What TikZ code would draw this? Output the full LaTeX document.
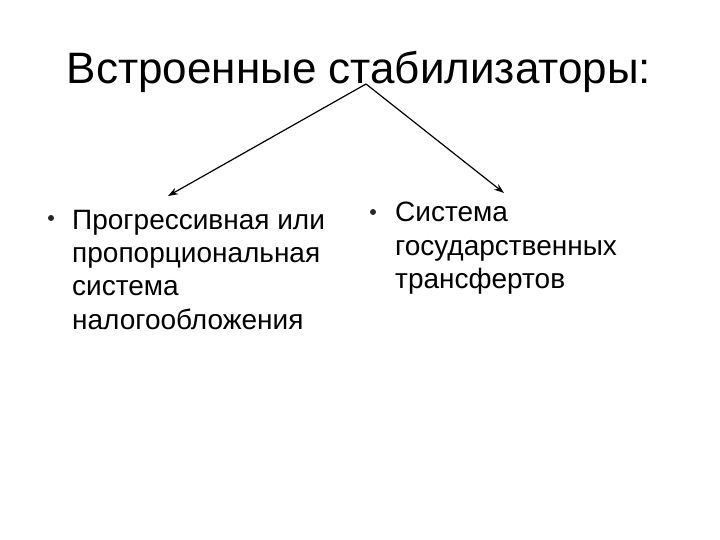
\documentclass[tikz,border=0pt]{standalone}
\usepackage{fontspec}
\setmainfont{Liberation Sans}
\usetikzlibrary{arrows.meta}
\begin{document}
\begin{tikzpicture}[x=1pt,y=-1pt,
  titletext/.style={inner sep=0pt,font=\fontsize{44}{52}\selectfont},
  bodytext/.style={inner sep=0pt,anchor=base west,align=left,font=\fontsize{28}{33.3}\selectfont},
  bulletmark/.style={circle,fill=black!85,inner sep=0pt,minimum size=6pt},
  conn/.style={line width=1.2pt,-{Stealth[length=10pt,width=7pt]}}]
\useasboundingbox[fill=white] (0,0) rectangle (720,540);
\node[titletext,anchor=base] (title) at (359,84) {Встроенные стабилизаторы:};
\coordinate (apex) at (366,84);
\coordinate (lefttip) at (168,196);
\coordinate (righttip) at (504,193);
\node[bulletmark] (lb) at (51,218) {};
\node[bodytext] (left) at (72,329) {Прогрессивная или\\пропорциональная\\система\\налогообложения};
\node[bulletmark] (rb) at (373,212) {};
\node[bodytext] (right) at (395,288.5) {Система\\государственных\\трансфертов};
\draw[conn] (apex) -- (lefttip);
\draw[conn] (apex) -- (righttip);
\end{tikzpicture}
\end{document}
